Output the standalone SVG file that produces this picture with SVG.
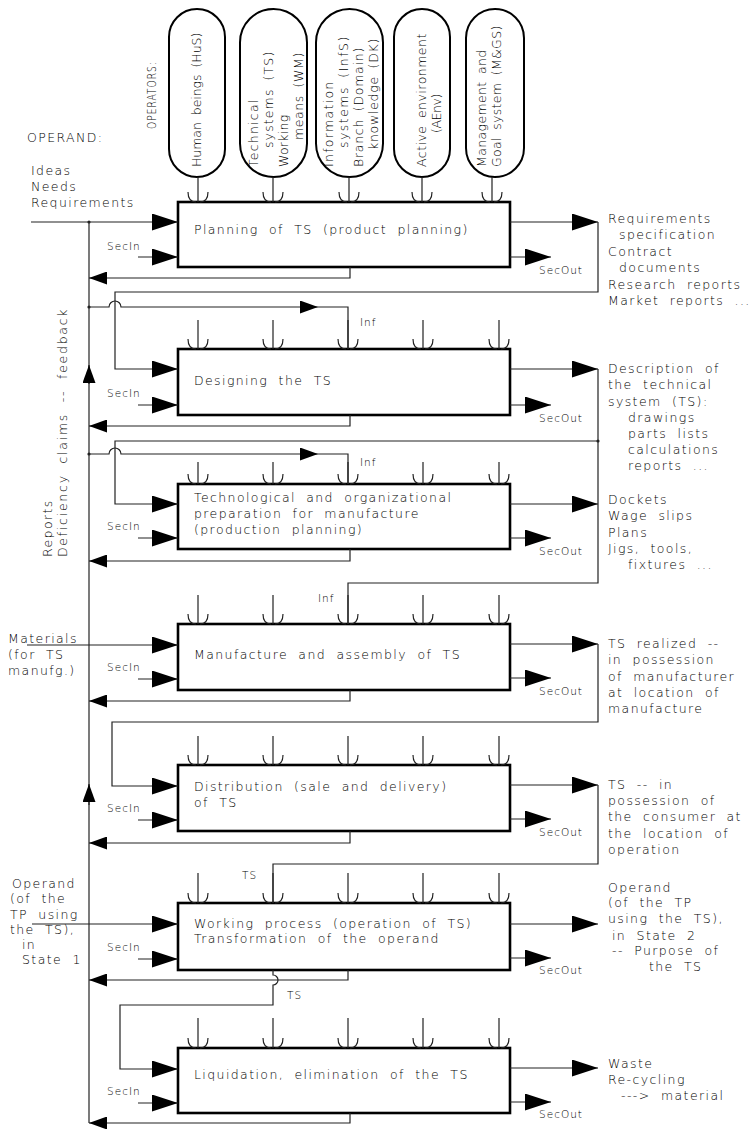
<svg xmlns="http://www.w3.org/2000/svg" xmlns:xlink="http://www.w3.org/1999/xlink" width="752" height="1129" viewBox="0 0 752 1129">
  <style>
    text { font-family: "DejaVu Sans", "Liberation Sans", sans-serif; font-size: 12.5px; font-weight: 200; letter-spacing: 1.4px; word-spacing: 5px; fill: #000; }
    .s { font-size: 10.5px; letter-spacing: 1px; word-spacing: 3px; }
    .p { font-size: 12.5px; letter-spacing: 0.7px; word-spacing: 3px; }
    .box { fill: #fff; stroke: #000; stroke-width: 2.6; }
    .pill { fill: #fff; stroke: #000; stroke-width: 2; }
    .ln { fill: none; stroke: #222; stroke-width: 1.2; }
    .big { marker-end: url(#big); }
    .sm { marker-end: url(#small); }
    .cup { fill: none; stroke: #222; stroke-width: 1.2; }
    .dot { fill: #222; }
  </style>
  <defs>
    <marker id="big" viewBox="0 0 26 17" refX="26" refY="8.5" markerWidth="26" markerHeight="17" markerUnits="userSpaceOnUse" orient="auto">
      <path d="M0,0 L26,8.5 L0,17 Z" fill="#000"/>
    </marker>
    <marker id="small" viewBox="0 0 18 13" refX="18" refY="6.5" markerWidth="18" markerHeight="13" markerUnits="userSpaceOnUse" orient="auto">
      <path d="M0,0 L18,6.5 L0,13 Z" fill="#000"/>
    </marker>
    <!-- open operator arrowhead, origin at the tip on the box edge -->
    <path id="cup" class="cup" d="M-10,-10 Q-10,0 -2,0 M10,-10 Q10,0 2,0"/>
  </defs>

  <!-- labels on the left -->
  <g id="operand-labels">
    <text x="27" y="142">OPERAND:</text>
    <text x="31" y="175">Ideas</text>
    <text x="31" y="191">Needs</text>
    <text x="31" y="207">Requirements</text>
    <text x="8" y="643">Materials</text>
    <text x="8" y="659">(for TS</text>
    <text x="8" y="675">manufg.)</text>
    <text x="12" y="888">Operand</text>
    <text x="10" y="903">(of the</text>
    <text x="10" y="919">TP using</text>
    <text x="10" y="934">the TS),</text>
    <text x="22" y="949">in</text>
    <text x="22" y="964">State 1</text>
  </g>
  <g id="feedback-label">
    <text transform="translate(52,557) rotate(-90)">Reports</text>
    <text transform="translate(67,557) rotate(-90)" textLength="249" lengthAdjust="spacing">Deficiency claims -- feedback</text>
  </g>
  <g id="operators-label">
    <text transform="translate(156,129) rotate(-90)" textLength="68" lengthAdjust="spacingAndGlyphs">OPERATORS:</text>
  </g>

  <!-- operators -->
  <g id="op-hus">
    <rect class="pill" x="169" y="9" width="56" height="168" rx="28"/>
    <text class="p" transform="translate(201,167) rotate(-90)" textLength="135" lengthAdjust="spacing">Human beings (HuS)</text>
  </g>
  <g id="op-ts">
    <rect class="pill" x="240" y="9" width="67" height="168" rx="33.5"/>
    <text class="p" transform="translate(258,167) rotate(-90)" textLength="68" lengthAdjust="spacing">Technical</text>
    <text class="p" transform="translate(273,148) rotate(-90)" textLength="97" lengthAdjust="spacing">systems (TS)</text>
    <text class="p" transform="translate(288,167) rotate(-90)" textLength="53" lengthAdjust="spacing">Working</text>
    <text class="p" transform="translate(303,140) rotate(-90)" textLength="88" lengthAdjust="spacing">means (WM)</text>
  </g>
  <g id="op-infs">
    <rect class="pill" x="316" y="9" width="67" height="168" rx="33.5"/>
    <text class="p" transform="translate(333,167) rotate(-90)" textLength="86" lengthAdjust="spacing">Information</text>
    <text class="p" transform="translate(348,148) rotate(-90)" textLength="112" lengthAdjust="spacing">systems (InfS)</text>
    <text class="p" transform="translate(363,167) rotate(-90)" textLength="120" lengthAdjust="spacing">Branch (Domain)</text>
    <text class="p" transform="translate(378,150) rotate(-90)" textLength="112" lengthAdjust="spacing">knowledge (DK)</text>
  </g>
  <g id="op-aenv">
    <rect class="pill" x="394" y="9" width="56" height="168" rx="28"/>
    <text class="p" transform="translate(426,167) rotate(-90)" textLength="134" lengthAdjust="spacing">Active environment</text>
    <text class="p" transform="translate(441,133) rotate(-90)" textLength="40" lengthAdjust="spacing">(AEnv)</text>
  </g>
  <g id="op-mgs">
    <rect class="pill" x="466" y="9" width="58" height="168" rx="29"/>
    <text class="p" transform="translate(486,167) rotate(-90)" textLength="118" lengthAdjust="spacing">Management and</text>
    <text class="p" transform="translate(501,167) rotate(-90)" textLength="142" lengthAdjust="spacing">Goal system (M&amp;GS)</text>
  </g>

  <!-- process boxes -->
  <g id="p1-planning">
    <rect class="box" x="178" y="202" width="332" height="65"/>
    <text x="194" y="234">Planning of TS (product planning)</text>
  </g>
  <g id="p2-designing">
    <rect class="box" x="178" y="349" width="332" height="66"/>
    <text x="194" y="385">Designing the TS</text>
  </g>
  <g id="p3-preparation">
    <rect class="box" x="178" y="484" width="332" height="65"/>
    <text x="194" y="502">Technological and organizational</text>
    <text x="194" y="518">preparation for manufacture</text>
    <text x="194" y="534">(production planning)</text>
  </g>
  <g id="p4-manufacture">
    <rect class="box" x="178" y="624" width="332" height="66"/>
    <text x="194" y="659">Manufacture and assembly of TS</text>
  </g>
  <g id="p5-distribution">
    <rect class="box" x="178" y="765" width="332" height="66"/>
    <text x="194" y="791">Distribution (sale and delivery)</text>
    <text x="194" y="807">of TS</text>
  </g>
  <g id="p6-working">
    <rect class="box" x="178" y="903" width="332" height="67"/>
    <text x="194" y="928">Working process (operation of TS)</text>
    <text x="194" y="943">Transformation of the operand</text>
  </g>
  <g id="p7-liquidation">
    <rect class="box" x="178" y="1048" width="332" height="65"/>
    <text x="194" y="1079">Liquidation, elimination of the TS</text>
  </g>

  <!-- outputs on the right -->
  <g id="out-1">
    <text x="608" y="223">Requirements</text>
    <text x="619" y="239">specification</text>
    <text x="608" y="256">Contract</text>
    <text x="619" y="272">documents</text>
    <text x="608" y="289">Research reports</text>
    <text x="608" y="305">Market reports ...</text>
  </g>
  <g id="out-2">
    <text x="608" y="373">Description of</text>
    <text x="608" y="389">the technical</text>
    <text x="608" y="406">system (TS):</text>
    <text x="628" y="422">drawings</text>
    <text x="628" y="438">parts lists</text>
    <text x="628" y="454">calculations</text>
    <text x="628" y="470">reports ...</text>
  </g>
  <g id="out-3">
    <text x="608" y="504">Dockets</text>
    <text x="608" y="520">Wage slips</text>
    <text x="608" y="537">Plans</text>
    <text x="608" y="553">Jigs, tools,</text>
    <text x="628" y="569">fixtures ...</text>
  </g>
  <g id="out-4">
    <text x="608" y="648">TS realized --</text>
    <text x="608" y="664">in possession</text>
    <text x="608" y="681">of manufacturer</text>
    <text x="608" y="697">at location of</text>
    <text x="608" y="713">manufacture</text>
  </g>
  <g id="out-5">
    <text x="608" y="789">TS -- in</text>
    <text x="608" y="805">possession of</text>
    <text x="608" y="821">the consumer at</text>
    <text x="608" y="838">the location of</text>
    <text x="608" y="854">operation</text>
  </g>
  <g id="out-6">
    <text x="608" y="892">Operand</text>
    <text x="608" y="907">(of the TP</text>
    <text x="608" y="923">using the TS),</text>
    <text x="612" y="940">in State 2</text>
    <text x="612" y="955">-- Purpose of</text>
    <text x="649" y="971">the TS</text>
  </g>
  <g id="out-7">
    <text x="608" y="1068">Waste</text>
    <text x="608" y="1084">Re-cycling</text>
    <text x="621" y="1100">---&gt; material</text>
  </g>

  <!-- connectors -->
  <g id="connectors">
    <!-- feedback spine -->
    <path class="ln" d="M89,222 V1123"/>
    <path class="ln sm" d="M89,384 V365"/>
    <path class="ln sm" d="M89,805 V784"/>
    <circle class="dot" cx="89" cy="222" r="1.6"/>
    <circle class="dot" cx="89" cy="307" r="1.6"/>
    <circle class="dot" cx="89" cy="454" r="1.6"/>
    <circle class="dot" cx="598" cy="441" r="1.6"/>

    <!-- operator stems, first process from the pills -->
    <path class="ln" d="M198,177 V202 M273,177 V202 M349,177 V202 M422,177 V202 M492,177 V202"/>
    <use xlink:href="#cup" x="198" y="202"/><use xlink:href="#cup" x="273" y="202"/><use xlink:href="#cup" x="349" y="202"/><use xlink:href="#cup" x="422" y="202"/><use xlink:href="#cup" x="492" y="202"/>
    <!-- operator stems, later processes -->
    <path class="ln" d="M198,320 V349 M273,320 V349 M348,320 V349 M423,320 V349 M499,320 V349"/>
    <use xlink:href="#cup" x="198" y="349"/><use xlink:href="#cup" x="273" y="349"/><use xlink:href="#cup" x="348" y="349"/><use xlink:href="#cup" x="423" y="349"/><use xlink:href="#cup" x="499" y="349"/>
    <path class="ln" d="M198,462 V484 M273,462 V484 M348,462 V484 M423,462 V484 M499,462 V484"/>
    <use xlink:href="#cup" x="198" y="484"/><use xlink:href="#cup" x="273" y="484"/><use xlink:href="#cup" x="348" y="484"/><use xlink:href="#cup" x="423" y="484"/><use xlink:href="#cup" x="499" y="484"/>
    <path class="ln" d="M198,595 V624 M273,595 V624 M348,595 V624 M423,595 V624 M499,595 V624"/>
    <use xlink:href="#cup" x="198" y="624"/><use xlink:href="#cup" x="273" y="624"/><use xlink:href="#cup" x="348" y="624"/><use xlink:href="#cup" x="423" y="624"/><use xlink:href="#cup" x="499" y="624"/>
    <path class="ln" d="M198,736 V765 M273,736 V765 M348,736 V765 M423,736 V765 M499,736 V765"/>
    <use xlink:href="#cup" x="198" y="765"/><use xlink:href="#cup" x="273" y="765"/><use xlink:href="#cup" x="348" y="765"/><use xlink:href="#cup" x="423" y="765"/><use xlink:href="#cup" x="499" y="765"/>
    <path class="ln" d="M198,873 V903 M273,873 V903 M348,873 V903 M423,873 V903 M499,873 V903"/>
    <use xlink:href="#cup" x="198" y="903"/><use xlink:href="#cup" x="273" y="903"/><use xlink:href="#cup" x="348" y="903"/><use xlink:href="#cup" x="423" y="903"/><use xlink:href="#cup" x="499" y="903"/>
    <path class="ln" d="M198,1018 V1048 M273,1018 V1048 M348,1018 V1048 M423,1018 V1048 M499,1018 V1048"/>
    <use xlink:href="#cup" x="198" y="1048"/><use xlink:href="#cup" x="273" y="1048"/><use xlink:href="#cup" x="348" y="1048"/><use xlink:href="#cup" x="423" y="1048"/><use xlink:href="#cup" x="499" y="1048"/>

    <!-- primary operand inputs -->
    <path class="ln big" d="M31,222 H178"/>
    <path class="ln big" d="M27,645 H178"/>
    <path class="ln big" d="M32,924 H178"/>

    <!-- secondary inputs -->
    <path class="ln big" d="M138,257 H178"/>
    <path class="ln big" d="M138,405 H178"/>
    <path class="ln big" d="M138,538 H178"/>
    <path class="ln big" d="M138,679 H178"/>
    <path class="ln big" d="M138,820 H178"/>
    <path class="ln big" d="M138,959 H178"/>
    <path class="ln big" d="M138,1103 H178"/>

    <!-- primary outputs -->
    <path class="ln big" d="M510,222 H598"/>
    <path class="ln big" d="M510,369 H598"/>
    <path class="ln big" d="M510,504 H598"/>
    <path class="ln big" d="M510,644 H598"/>
    <path class="ln big" d="M510,785 H598"/>
    <path class="ln big" d="M510,924 H598"/>
    <path class="ln big" d="M510,1068 H598"/>

    <!-- secondary outputs -->
    <path class="ln big" d="M510,257 H551"/>
    <path class="ln big" d="M510,405 H551"/>
    <path class="ln big" d="M510,538 H551"/>
    <path class="ln big" d="M510,678 H551"/>
    <path class="ln big" d="M510,819 H551"/>
    <path class="ln big" d="M510,958 H551"/>
    <path class="ln big" d="M510,1102 H551"/>

    <!-- returns to the feedback spine -->
    <path class="ln sm" d="M350,267 V278 H89"/>
    <path class="ln sm" d="M350,415 V426 H89"/>
    <path class="ln sm" d="M350,549 V561 H89"/>
    <path class="ln sm" d="M350,690 V701 H89"/>
    <path class="ln sm" d="M350,831 V843 H89"/>
    <path class="ln sm" d="M348,970 V980 H89"/>
    <path class="ln sm" d="M350,1113 V1123 H89"/>

    <!-- result of one phase feeds the next -->
    <path class="ln big" d="M598,222 V292 H115 V369 H178"/>
    <path class="ln big" d="M598,441 H115 V504 H178"/>
    <path class="ln" d="M598,369 V583 H348 V624"/>
    <path class="ln big" d="M598,644 V722 H112 V786 H178"/>
    <path class="ln" d="M598,785 V864 H273 V903"/>
    <path class="ln big" d="M273,970 V975 A5,5 0 0 1 273,985 V1005 H120 V1069 H178"/>

    <!-- information fed back from the spine -->
    <path class="ln sm" d="M89,307 H109 A6,6 0 0 1 121,307 H318"/>
    <path class="ln" d="M318,307 H348 V349"/>
    <path class="ln sm" d="M89,454 H109 A6,6 0 0 1 121,454 H318"/>
    <path class="ln" d="M318,454 H348 V484"/>
  </g>

  <!-- connector labels -->
  <g id="flow-labels">
    <text class="s" x="107" y="250">SecIn</text>
    <text class="s" x="107" y="397">SecIn</text>
    <text class="s" x="107" y="530">SecIn</text>
    <text class="s" x="107" y="671">SecIn</text>
    <text class="s" x="107" y="812">SecIn</text>
    <text class="s" x="107" y="951">SecIn</text>
    <text class="s" x="107" y="1095">SecIn</text>
    <text class="s" x="539" y="274">SecOut</text>
    <text class="s" x="539" y="422">SecOut</text>
    <text class="s" x="539" y="555">SecOut</text>
    <text class="s" x="539" y="695">SecOut</text>
    <text class="s" x="539" y="836">SecOut</text>
    <text class="s" x="539" y="974">SecOut</text>
    <text class="s" x="539" y="1118">SecOut</text>
    <text class="s" x="360" y="326">Inf</text>
    <text class="s" x="360" y="466">Inf</text>
    <text class="s" x="318" y="602">Inf</text>
    <text class="s" x="242" y="879" font-weight="600">TS</text>
    <text class="s" x="287" y="999">TS</text>
  </g>
</svg>
